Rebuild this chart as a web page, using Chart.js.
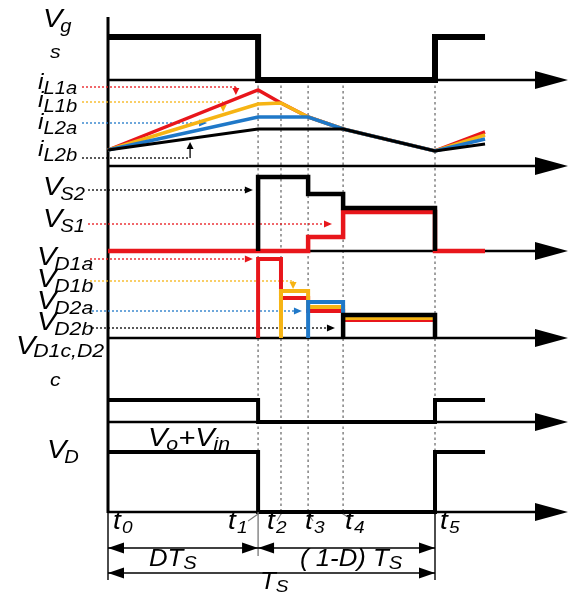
<!DOCTYPE html>
<html><head><meta charset="utf-8">
<script src="https://cdn.jsdelivr.net/npm/chart.js@4/dist/chart.umd.min.js"></script>
<style>html,body{margin:0;padding:0;background:#fff}canvas{display:block}</style>
</head><body>
<canvas id="c" width="573" height="594"></canvas>
<script>
// ================= DATA (time in units of Ts, levels in relative units) =================
const timeNames = ['0', '1', '2', '3', '4', '5'];            // subscripts of t0..t5
const stepTimes = [0, 0.459, 0.529, 0.612, 0.719, 1.0, 1.153]; // t0..t5, end of drawn segment
// gate signal s
const gateS   = [1, 0, 0, 0, 0, 1, 1];
// inductor currents (piecewise linear between the instants)
const iL1a = [1.6, 7.6, 6.3, 4.9, 3.7, 1.5, 3.4];
const iL1b = [1.6, 6.2, 6.3, 4.9, 3.7, 1.5, 3.1];
const iL2a = [1.6, 4.9, 4.9, 4.9, 3.7, 1.5, 2.7];
const iL2b = [1.6, 3.7, 3.7, 3.7, 3.7, 1.5, 2.2];
// switch voltages (step, value held from each instant)
const vS2  = [null, 7.4, 7.4, 5.7, 4.3, 0, null];
const vS1  = [0, 0, 0, 1.4, 3.9, 0, 0];
// diode voltages
const vD1a = [null, 7.9, 4.0, 2.7, 1.8, 0, null];
const vD1b = [null, null, 4.7, 3.1, 2.0, 0, null];
const vD2a = [null, null, null, 3.6, 2.3, 0, null];
const vD2b = [null, null, null, null, 2.3, 0, null];
const vD1cD2c = [1, 0, 0, 0, 0, 1, 1];
const vD      = [1, 0, 0, 0, 0, 1, 1];

// ================= LAYOUT / STYLE =================
const W = 573, H = 594;
const X0PX = 108, PX_PER_TS = 327;
const rows = {
  gate: { base: 80,  gain: 43 },
  cur:  { base: 166, gain: 10 },
  vs:   { base: 251, gain: 10 },
  vd:   { base: 338, gain: 10 },
  vdc:  { base: 422, gain: 22 },
  vdd:  { base: 512, gain: 60 }
};
const RED = '#e8161b', YEL = '#f6b414', BLU = '#1f78c8', BLK = '#000000';
const FONT = '"Liberation Sans", Arial, sans-serif';
const SX = 1.12;

function stepPts(vals) {
  const pts = []; let prevNull = true;
  vals.forEach((v, i) => {
    if (v == null) { prevNull = true; return; }
    if (prevNull && i > 0 && v !== 0) pts.push({ x: stepTimes[i], y: 0 });
    pts.push({ x: stepTimes[i], y: v }); prevNull = false;
  });
  return pts;
}
function linPts(vals) { return vals.map((v, i) => ({ x: stepTimes[i], y: v })); }
function ds(data, axis, color, width, stepped) {
  return { data, yAxisID: axis, borderColor: color, borderWidth: width, stepped: stepped ? 'before' : false,
    pointRadius: 0, fill: false, tension: 0, borderJoinStyle: 'miter', borderCapStyle: 'butt' };
}

const datasets = [
  ds(stepPts(gateS), 'gate', BLK, 6, true),
  ds(linPts(iL2b), 'cur', BLK, 3, false),
  ds(linPts(iL2a), 'cur', BLU, 3.5, false),
  ds(linPts(iL1b), 'cur', YEL, 3.5, false),
  ds(linPts(iL1a), 'cur', RED, 3.5, false),
  ds(stepPts(vS2), 'vs', BLK, 4.5, true),
  ds(stepPts(vS1), 'vs', RED, 4.5, true),
  ds(stepPts(vD2b), 'vd', BLK, 4.5, true),
  ds(stepPts(vD2a), 'vd', BLU, 4, true),
  ds(stepPts(vD1b), 'vd', YEL, 4, true),
  ds(stepPts(vD1a), 'vd', RED, 4, true),
  ds(stepPts(vD1cD2c), 'vdc', BLK, 4, true),
  ds(stepPts(vD), 'vdd', BLK, 4, true)
];

const scales = {
  x: { type: 'linear', display: false, min: -X0PX / PX_PER_TS, max: (W - X0PX) / PX_PER_TS }
};
for (const k in rows) {
  const r = rows[k];
  scales[k] = { type: 'linear', display: false, min: -(H - r.base) / r.gain, max: r.base / r.gain };
}

function txt(ctx, parts, x, y, color) {
  ctx.save(); ctx.translate(x, y); ctx.scale(SX, 1); ctx.fillStyle = color || '#000';
  ctx.textBaseline = 'alphabetic'; ctx.textAlign = 'left';
  let cx = 0;
  for (const p of parts) {
    ctx.font = 'italic ' + p.s + 'px ' + FONT;
    cx += (p.dx || 0);
    ctx.fillText(p.t, cx, p.dy || 0);
    cx += ctx.measureText(p.t).width;
  }
  ctx.restore();
}
function tri(ctx, tipX, tipY, dir, len, half, color) {
  ctx.save(); ctx.fillStyle = color; ctx.beginPath();
  ctx.moveTo(tipX, tipY);
  if (dir === 'r') { ctx.lineTo(tipX - len, tipY - half); ctx.lineTo(tipX - len, tipY + half); }
  if (dir === 'l') { ctx.lineTo(tipX + len, tipY - half); ctx.lineTo(tipX + len, tipY + half); }
  if (dir === 'd') { ctx.lineTo(tipX - half, tipY - len); ctx.lineTo(tipX + half, tipY - len); }
  if (dir === 'u') { ctx.lineTo(tipX - half, tipY + len); ctx.lineTo(tipX + half, tipY + len); }
  ctx.closePath(); ctx.fill(); ctx.restore();
}
function line(ctx, x1, y1, x2, y2, color, w, dash) {
  ctx.save(); ctx.strokeStyle = color; ctx.lineWidth = w; ctx.setLineDash(dash || []);
  ctx.beginPath(); ctx.moveTo(x1, y1); ctx.lineTo(x2, y2); ctx.stroke(); ctx.restore();
}

// label pointers: [color, row, level, startPx, tipTime, tipLevel or null, dir]
const pointers = [
  [RED, 'cur', 7.9, 82, 0.391, 7.1, 'd'],
  [YEL, 'cur', 6.4, 82, 0.352, 5.4, 'd'],
  [BLU, 'cur', 4.3, 82, 0.303, null, 'r'],
  [BLK, 'cur', 0.8, 82, 0.251, 2.4, 'u'],
  [BLK, 'vs', 6.1, 88, 0.443, null, 'r'],
  [RED, 'vs', 2.7, 88, 0.685, null, 'r'],
  [RED, 'vd', 7.9, 90, 0.443, null, 'r'],
  [YEL, 'vd', 5.7, 90, 0.566, 4.9, 'd'],
  [BLU, 'vd', 2.7, 92, 0.593, null, 'r'],
  [BLK, 'vd', 1.0, 92, 0.694, null, 'r']
];

const deco = {
  id: 'deco',
  beforeDraw(chart) {
    const ctx = chart.ctx; ctx.save(); ctx.fillStyle = '#fff'; ctx.fillRect(0, 0, W, H); ctx.restore();
  },
  beforeDatasetsDraw(chart) {
    const ctx = chart.ctx, sx = chart.scales.x;
    const X = t => sx.getPixelForValue(t);
    const Y = (r, v) => chart.scales[r].getPixelForValue(v);
    // dashed time markers
    for (let i = 1; i <= 5; i++) {
      line(ctx, X(stepTimes[i]), Y('gate', 0), X(stepTimes[i]), Y('vdd', 0) + 3, '#8a8a8a', 1.6, [2.5, 3]);
    }
    // horizontal axes with arrows
    const tipT = (568 - X0PX) / PX_PER_TS;
    for (const k in rows) {
      const y = Y(k, 0);
      line(ctx, X(0), y, X(tipT) - 20, y, '#000', 2.5);
      tri(ctx, X(tipT), y, 'r', 33, 9, '#000');
    }
    // vertical axis
    line(ctx, X(0), 17, X(0), Y('vdd', 0) + 1, '#000', 3);
    // pointers
    for (const p of pointers) {
      const [c, r, lvl, sx0, tt, tl, dir] = p;
      const y = Y(r, lvl), xt = X(tt);
      if (dir === 'r') {
        line(ctx, sx0, y, xt - 6, y, c, 1.3, [2, 2]);
        tri(ctx, xt, y, 'r', 8, 3.5, c);
      } else {
        line(ctx, sx0, y, xt, y, c, 1.3, [2, 2]);
        const y2 = Y(r, tl);
        if (dir === 'd') { line(ctx, xt, y, xt, y2 - 6, c, 1.3); tri(ctx, xt, y2, 'd', 7, 3.5, c); }
        else { line(ctx, xt, y, xt, y2 + 6, c, 1.3); tri(ctx, xt, y2, 'u', 7, 3.5, c); }
      }
    }
  },
  afterDatasetsDraw(chart) {
    const ctx = chart.ctx, sx = chart.scales.x;
    const X = t => sx.getPixelForValue(t);
    const yb = rows.vdd.base;
    // extension / leader lines
    line(ctx, X(0), yb, X(0), 580, '#000', 1.4);
    line(ctx, X(stepTimes[5]), yb, X(stepTimes[5]), 580, '#000', 1.4);
    line(ctx, X(stepTimes[1]), yb, X(stepTimes[1]), 556, '#777', 1.3);
    line(ctx, X(stepTimes[1]), yb + 2, X(stepTimes[1]) - 10, yb + 9, '#777', 1.1);
    line(ctx, X(stepTimes[2]), yb + 2, X(stepTimes[2]) - 4, yb + 9, '#777', 1.1);
    line(ctx, X(stepTimes[3]), yb + 2, X(stepTimes[3]) + 5, yb + 9, '#777', 1.1);
    line(ctx, X(stepTimes[4]), yb + 2, X(stepTimes[4]) + 8, yb + 7, '#777', 1.1);
    // dimension arrows
    const d1 = 548, d2 = 573;
    line(ctx, X(0), d1, X(stepTimes[5]), d1, '#000', 1.4);
    tri(ctx, X(0), d1, 'l', 16, 5.5, '#000'); tri(ctx, X(stepTimes[1]), d1, 'r', 16, 5.5, '#000');
    tri(ctx, X(stepTimes[1]), d1, 'l', 16, 5.5, '#000'); tri(ctx, X(stepTimes[5]), d1, 'r', 16, 5.5, '#000');
    line(ctx, X(0), d2, X(stepTimes[5]), d2, '#000', 1.4);
    tri(ctx, X(0), d2, 'l', 16, 5.5, '#000'); tri(ctx, X(stepTimes[5]), d2, 'r', 16, 5.5, '#000');
    // time labels
    const tx = [113, 228, 267, 305, 345, 440];
    timeNames.forEach((n, i) => txt(ctx, [{ t: 't', s: 25 }, { t: n, s: 17, dy: 4, dx: 1 }], tx[i], 529));
    txt(ctx, [{ t: 'DT', s: 23 }, { t: 'S', s: 18, dy: 3 }], 149, 566);
    txt(ctx, [{ t: '( 1-D) T', s: 23 }, { t: 'S', s: 18, dy: 3 }], 300, 566);
    txt(ctx, [{ t: 'T', s: 23 }, { t: 'S', s: 17, dy: 3 }], 260, 589);
    // row labels
    const V = (sub, x, y, ss) => txt(ctx, [{ t: 'V', s: 26 }, { t: sub, s: ss || 18, dy: 5, dx: -2 }], x, y);
    V('g', 43, 27, 18);
    txt(ctx, [{ t: 's', s: 19 }], 50, 58);
    const I = (sub, x, y) => txt(ctx, [{ t: 'i', s: 22 }, { t: sub, s: 18, dy: 5, dx: 0 }], x, y);
    I('L1a', 38, 89); I('L1b', 38, 107); I('L2a', 38, 129); I('L2b', 38, 156);
    V('S2', 43, 195); V('S1', 43, 227);
    V('D1a', 37, 265, 19); V('D1b', 37, 287, 19); V('D2a', 37, 309, 19); V('D2b', 37, 330, 19);
    txt(ctx, [{ t: 'V', s: 26 }, { t: 'D1c,D2', s: 19, dy: 3, dx: -2 }], 16, 354);
    txt(ctx, [{ t: 'c', s: 19 }], 50, 386);
    V('D', 47, 458);
    txt(ctx, [{ t: 'V', s: 26 }, { t: 'o', s: 19, dy: 4, dx: -1 }, { t: '+V', s: 26 }, { t: 'in', s: 19, dy: 4, dx: -1 }], 148, 446);
  }
};

new Chart(document.getElementById('c'), {
  type: 'line',
  data: { datasets },
  options: {
    responsive: false, maintainAspectRatio: false, animation: false,
    layout: { padding: 0 },
    plugins: { legend: { display: false }, tooltip: { enabled: false }, title: { display: false } },
    scales,
    events: []
  },
  plugins: [deco]
});
</script>
</body></html>
